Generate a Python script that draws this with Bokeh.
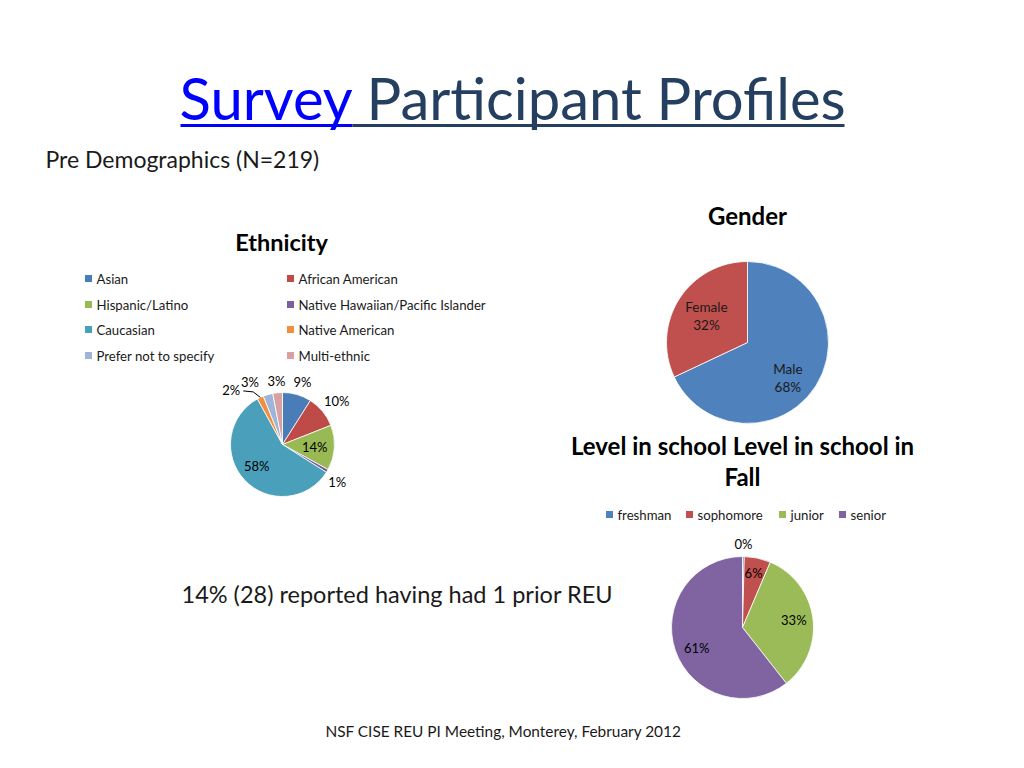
import math
from bokeh.plotting import figure
from bokeh.models import Range1d, ColumnDataSource
from bokeh.core.properties import value
from bokeh.embed import file_html
from bokeh.resources import INLINE

FONT = "Lato"

# ---------------- data ----------------
title_link = "Survey"
title_rest = "Participant Profiles"
subtitle = "Pre Demographics (N=219)"

eth_title = "Ethnicity"
eth_cats = ["Asian", "African American", "Hispanic/Latino",
            "Native Hawaiian/Pacific Islander", "Caucasian", "Native American",
            "Prefer not to specify", "Multi-ethnic"]
eth_vals = [9, 10, 14, 1, 58, 2, 3, 3]
eth_colors = ["#4A7CB8", "#BE4B48", "#98B954", "#7D5FA0",
              "#4A9FBA", "#F0903F", "#9EB5DA", "#D9A0A0"]

gender_title = "Gender"
gender_cats = ["Male", "Female"]
gender_vals = [68, 32]
gender_colors = ["#4F81BD", "#C0504D"]

level_title = ["Level in school Level in school in", "Fall"]
level_cats = ["freshman", "sophomore", "junior", "senior"]
level_vals = [0.4, 6, 33, 60.6]
level_colors = ["#4F81BD", "#C0504D", "#9BBB59", "#8064A2"]

note = "14% (28) reported having had 1 prior REU"
footer = "NSF CISE REU PI Meeting, Monterey, February 2012"

# ---------------- figure ----------------
W, H = 1008, 752
p = figure(width=W, height=H, output_backend="svg", toolbar_location=None,
           x_range=Range1d(0, W), y_range=Range1d(-H, 0),
           min_border=0)
p.axis.visible = False
p.grid.visible = False
p.outline_line_color = None
p.background_fill_color = "white"


def txt(x, y, s, size, color="#000000", style="normal", align="left",
        baseline="middle"):
    p.text(x=[x], y=[-y], text=[s], text_font=value(FONT),
           text_font_size=f"{size}px", text_color=color,
           text_font_style=style, text_align=align, text_baseline=baseline)


def pie(cx, cy, r, vals, colors, f, dth, size, two_line=None, color="#000000"):
    total = float(sum(vals))
    cum = 0.0
    t0s, t1s = [], []
    for v in vals:
        t0 = cum / total * 2 * math.pi
        cum += v
        t1 = cum / total * 2 * math.pi
        t0s.append(t0)
        t1s.append(t1)
    src = ColumnDataSource(dict(
        start=[math.pi / 2 - a for a in t0s],
        end=[math.pi / 2 - b for b in t1s],
        color=colors))
    p.wedge(x=cx, y=-cy, radius=r, start_angle="start", end_angle="end",
            direction="clock", fill_color="color", line_color="white",
            line_width=0.8, source=src)
    pos = []
    for i, v in enumerate(vals):
        mid = (t0s[i] + t1s[i]) / 2 + math.radians(dth[i])
        lx = cx + r * f[i] * math.sin(mid)
        ly = cy - r * f[i] * math.cos(mid)
        pct = f"{round(v / total * 100)}%"
        if two_line:
            txt(lx, ly - 9, two_line[i], size, color, align="center")
            txt(lx, ly + 9, pct, size, color, align="center")
        else:
            txt(lx, ly, pct, size, color, align="center")
        pos.append((lx, ly))
    return pos, t0s, t1s


# ---------------- title ----------------
txt(179, 97, title_link, 58, "#0000FF")
txt(366, 97, title_rest, 58, "#243F60")
p.line(x=[180, 352], y=[-125, -125], line_color="#0000FF", line_width=3)
p.line(x=[352, 844], y=[-125, -125], line_color="#243F60", line_width=3)

txt(45, 158, subtitle, 23, "#1a1a1a")

# ---------------- ethnicity ----------------
txt(281, 241, eth_title, 23.5, style="bold", align="center")
col_x = [88, 290]
row_y = [278, 304, 329, 355]
for i, (c, col) in enumerate(zip(eth_cats, eth_colors)):
    lx = col_x[i % 2]
    ly = row_y[i // 2]
    p.rect(x=[lx], y=[-ly], width=7, height=7, fill_color=col, line_color=None)
    txt(lx + 8, ly, c, 13.2, "#1a1a1a")

eth_pos, et0, et1 = pie(282, 444, 52, eth_vals, eth_colors,
                        f=[1.27, 1.33, 0.62, 1.28, 0.64, 1.44, 1.35, 1.23],
                        dth=[1.4, 1.1, 0, 4, 4, -18, -11.4, 0], size=13)
# leader line for the small Native American slice
lx, ly = eth_pos[5]
mid = (et0[5] + et1[5]) / 2
ex = 282 + 52 * math.sin(mid)
ey = 444 - 52 * math.cos(mid)
p.line(x=[lx + 12, lx + 22, ex], y=[-(ly + 1), -(ly + 2), -ey],
       line_color="#000000", line_width=1)

# ---------------- gender ----------------
txt(747, 215, gender_title, 24, style="bold", align="center")
pie(747, 342, 81, gender_vals, gender_colors, f=[0.66, 0.6], dth=[8.6, 0],
    size=13.5, two_line=gender_cats, color="#1a1a1a")

# ---------------- level ----------------
txt(742, 445, level_title[0], 24, style="bold", align="center")
txt(742, 476, level_title[1], 24, style="bold", align="center")
leg_x = [609, 689, 782, 842]
for c, col, lx in zip(level_cats, level_colors, leg_x):
    p.rect(x=[lx], y=[-514], width=7, height=7, fill_color=col, line_color=None)
    txt(lx + 8, 514, c, 13.2, "#1a1a1a")
pie(742, 627, 71, level_vals, level_colors,
    f=[1.17, 0.78, 0.73, 0.71], dth=[0, -0.7, -0.4, -5.5], size=13)

# ---------------- notes ----------------
txt(181, 593, note, 23.5, "#1a1a1a")
txt(503, 730, footer, 15.4, "#1a1a1a", align="center")

open("out.html", "w").write(file_html(p, INLINE))
